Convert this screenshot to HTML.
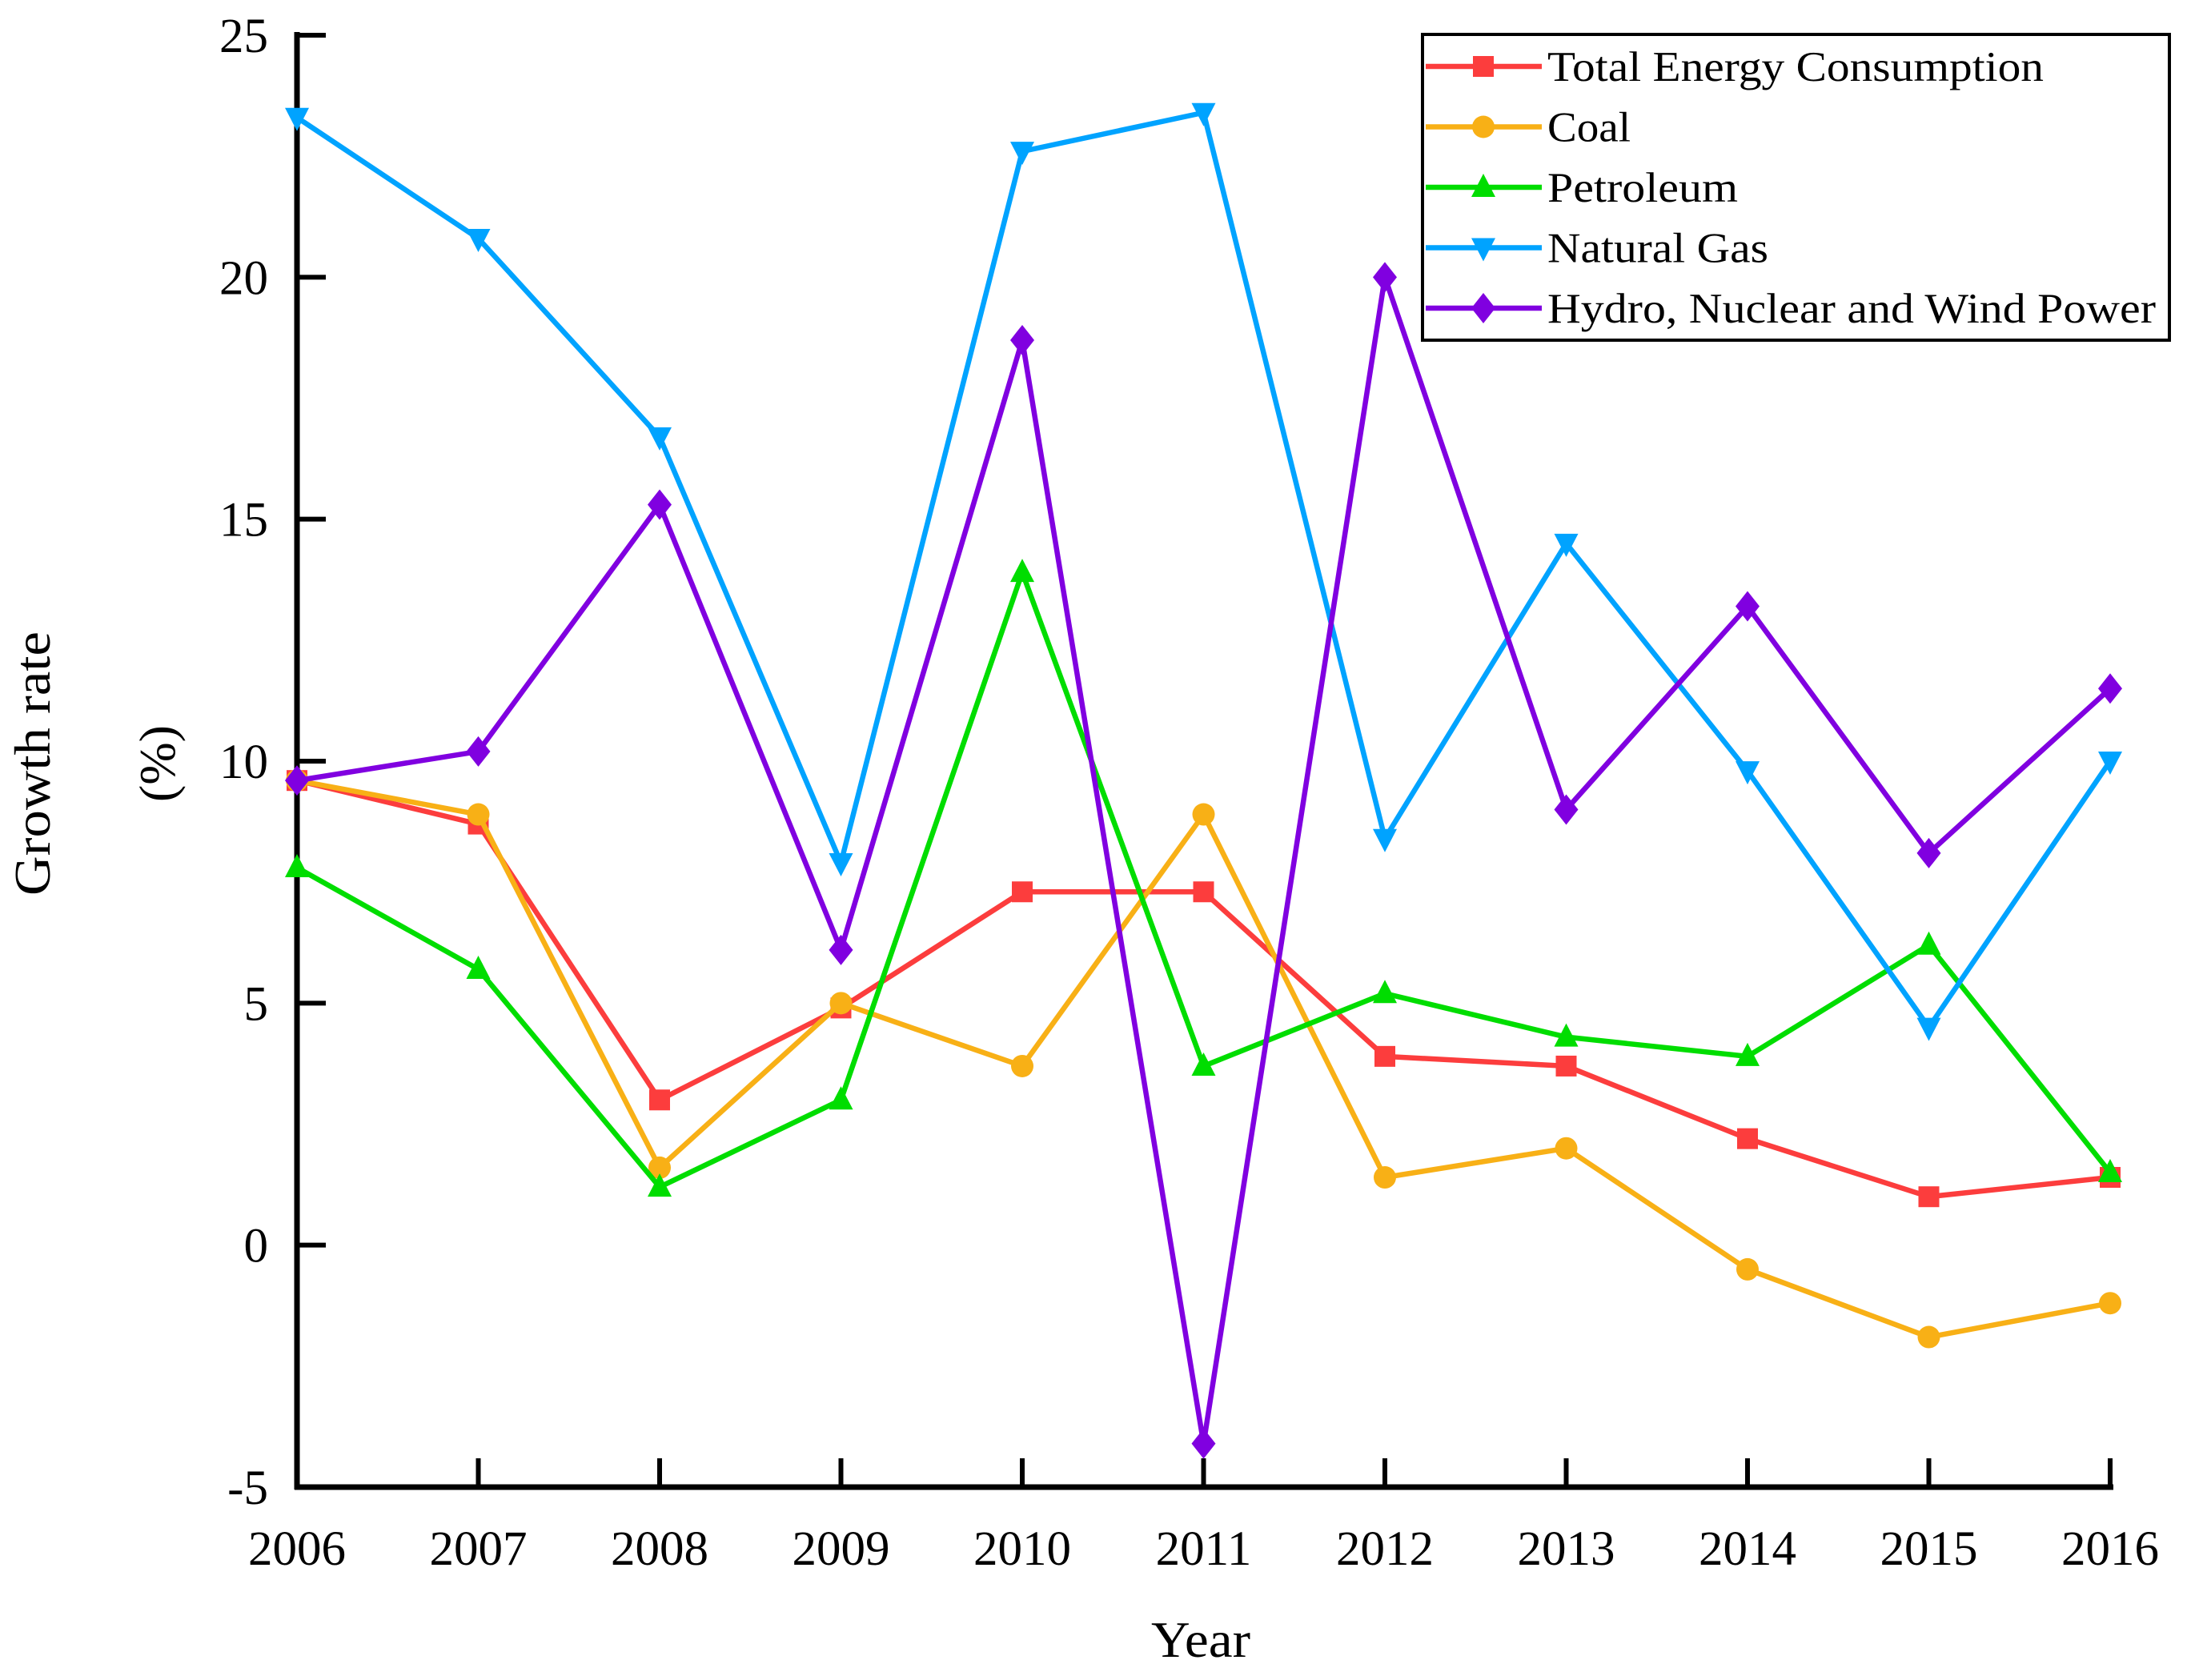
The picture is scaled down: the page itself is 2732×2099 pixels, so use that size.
<!DOCTYPE html>
<html><head><meta charset="utf-8"><style>
html,body{margin:0;padding:0;background:#fff;}
svg{display:block;font-family:"Liberation Serif",serif;}
</style></head><body>
<svg id="chart" width="2732" height="2099" viewBox="0 0 2732 2099" xmlns="http://www.w3.org/2000/svg">
<g id="axes"></g>
<g id="series"></g>
<g id="legend"></g>
<text x="1500" y="2070" font-size="64" text-anchor="middle" textLength="124" lengthAdjust="spacingAndGlyphs">Year</text>
<text transform="translate(62,954) rotate(-90)" font-size="64" text-anchor="middle" textLength="330" lengthAdjust="spacingAndGlyphs">Growth  rate</text>
<text transform="translate(218,954) rotate(-90)" font-size="64" text-anchor="middle">(%)</text>
</svg>
<script>
const years = [2006,2007,2008,2009,2010,2011,2012,2013,2014,2015,2016];
const yTicks = [-5,0,5,10,15,20,25];
const totalEnergy = [9.6,8.7,3.0,4.9,7.3,7.3,3.9,3.7,2.2,1.0,1.4];
const coal = [9.6,8.9,1.6,5.0,3.7,8.9,1.4,2.0,-0.5,-1.9,-1.2];
const petroleum = [7.8,5.7,1.2,3.0,13.9,3.7,5.2,4.3,3.9,6.2,1.5];
const naturalGas = [23.3,20.8,16.7,7.9,22.6,23.4,8.4,14.5,9.8,4.5,10.0];
const hydroNuclearWind = [9.6,10.2,15.3,6.1,18.7,-4.1,20.0,9.0,13.2,8.1,11.5];
const seriesNames = ["Total Energy Consumption","Coal","Petroleum","Natural Gas","Hydro, Nuclear and Wind Power"];
const legendWidths = [620,104,238,276,760];

const NS="http://www.w3.org/2000/svg";
const X0=371,X1=2636,Y0=1858,Y1=44;
const xs=y=>X0+(y-years[0])/(years[years.length-1]-years[0])*(X1-X0);
const ys=v=>Y0-(v-yTicks[0])/(yTicks[yTicks.length-1]-yTicks[0])*(Y0-Y1);
function mk(tag,attrs,parent){const e=document.createElementNS(NS,tag);for(const k in attrs)e.setAttribute(k,attrs[k]);parent.appendChild(e);return e;}
const axes=document.getElementById('axes');
let a=mk('line',{x1:X0,y1:Y1-4,x2:X0,y2:Y0+3,stroke:'#000','stroke-width':7},axes);


a=mk('line',{x1:X0-3,y1:Y0,x2:X1+4,y2:Y0,stroke:'#000','stroke-width':7},axes);


yTicks.forEach(t=>{
  const l=mk('line',{x1:X0,x2:X0+36,y1:ys(t),y2:ys(t),stroke:'#000','stroke-width':6},axes);
  
  
  const tx=mk('text',{x:X0-36,y:ys(t)+21,'font-size':61,'text-anchor':'end'},axes);
  tx.textContent=t;
  
  
});
years.forEach(y=>{
  const l=mk('line',{x1:xs(y),x2:xs(y),y1:Y0,y2:Y0-36,stroke:'#000','stroke-width':6},axes);
  
  
  const tx=mk('text',{x:xs(y),y:Y0+97,'font-size':61,'text-anchor':'middle'},axes);
  tx.textContent=y;
  
  
});
const colors=['#fc3d3d','#f8b016','#00dd00','#00a3ff','#8000e0'];
const shapes=['square','circle','up','down','diamond'];
const data=[totalEnergy,coal,petroleum,naturalGas,hydroNuclearWind];
function marker(shape,cx,cy,color,parent){
  const s=13;let e;
  if(shape==='square')e=mk('rect',{x:cx-s,y:cy-s,width:2*s,height:2*s,fill:color},parent);
  else if(shape==='circle')e=mk('circle',{cx:cx,cy:cy,r:s+1,fill:color},parent);
  else if(shape==='up')e=mk('polygon',{points:`${cx},${cy-17} ${cx+15},${cy+12} ${cx-15},${cy+12}`,fill:color},parent);
  else if(shape==='down')e=mk('polygon',{points:`${cx},${cy+17} ${cx+15},${cy-12} ${cx-15},${cy-12}`,fill:color},parent);
  else e=mk('polygon',{points:`${cx},${cy-19} ${cx+15},${cy} ${cx},${cy+19} ${cx-15},${cy}`,fill:color},parent);
  return e;
}
const sg=document.getElementById('series');
data.forEach((arr,i)=>{
  const g=mk('g',{},sg);
  
  
  const p=mk('polyline',{points:arr.map((v,j)=>xs(years[j])+','+ys(v)).join(' '),fill:'none',stroke:colors[i],'stroke-width':6.5,'stroke-linejoin':'round'},g);
  
  
  arr.forEach((v,j)=>{
    const m=marker(shapes[i],xs(years[j]),ys(v),colors[i],g);
    
    
  });
});
const lg=document.getElementById('legend');
const box=mk('rect',{x:1777,y:43,width:933,height:382,fill:'#fff',stroke:'#000','stroke-width':4},lg);


seriesNames.forEach((n,i)=>{
  const cy=83+i*75.5;
  const g=mk('g',{},lg);
  
  
  mk('line',{x1:1781,x2:1926,y1:cy,y2:cy,stroke:colors[i],'stroke-width':6.5},g);
  marker(shapes[i],1853,cy,colors[i],g);
  const t=mk('text',{x:1933,y:cy+18,'font-size':53,textLength:legendWidths[i],lengthAdjust:'spacingAndGlyphs'},g);
  t.textContent=n;
});
</script>
</body></html>
